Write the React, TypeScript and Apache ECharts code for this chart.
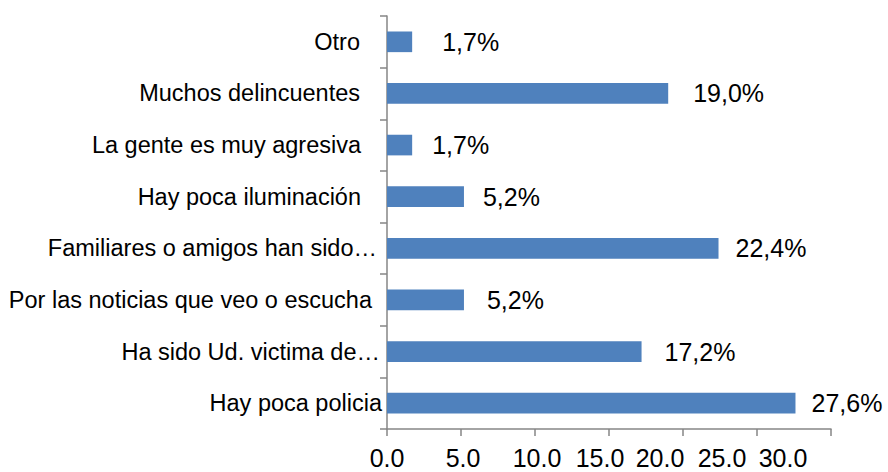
import React, { useEffect, useRef } from "react";
import * as echarts from "echarts";

const categories = [
  "Hay poca policia",
  "Ha sido Ud. victima de…",
  "Por las noticias que veo o escucha",
  "Familiares o amigos han sido…",
  "Hay poca iluminación",
  "La gente es muy agresiva",
  "Muchos delincuentes",
  "Otro",
];
const values = [27.6, 17.2, 5.2, 22.4, 5.2, 1.7, 19.0, 1.7];
const xTicks = [0, 5, 10, 15, 20, 25, 30];

// layout tweaks (style only)
const W = 888;
const GRID_LEFT = 387;
const GRID_RIGHT = 57;
const catLabelPad = [0, 2, 10, 5, 21, 21, 22, 22];
const xLabelShiftPx = [0, 2, 2, -9, -23, -35, -48];
const valueLabelGap = [16, 23, 23, 17, 19, 20, 25, 30];

const FONT = "'Liberation Sans', Arial, sans-serif";

export default function App() {
  const ref = useRef<HTMLDivElement>(null);
  useEffect(() => {
    if (!ref.current) return;
    const chart = echarts.init(ref.current, null, { renderer: "svg" });
    const xMin = xTicks[0];
    const xMax = xTicks[xTicks.length - 1];
    const pxPerUnit = (W - GRID_LEFT - GRID_RIGHT) / (xMax - xMin);
    const labelPositions = xTicks.map((t, i) => t + xLabelShiftPx[i] / pxPerUnit);
    const yRich: Record<string, any> = {};
    catLabelPad.forEach((p, i) => {
      yRich["c" + i] = {
        fontSize: 23.5,
        fontFamily: FONT,
        color: "#000",
        padding: [0, p, 0, 0],
      };
    });
    chart.setOption({
      animation: false,
      grid: {
        left: GRID_LEFT,
        right: GRID_RIGHT,
        top: 16,
        bottom: 43,
        outerBoundsMode: "none",
        containLabel: false,
      },
      xAxis: {
        type: "value",
        min: xMin,
        max: xMax,
        interval: 5,
        splitLine: { show: false },
        axisLine: { show: true, lineStyle: { color: "#868686", width: 1.5 } },
        axisTick: { show: true, length: 7, lineStyle: { color: "#868686", width: 1.5 } },
        axisLabel: {
          margin: 16,
          hideOverlap: false,
          showMinLabel: true,
          showMaxLabel: true,
          customValues: labelPositions,
          fontSize: 25,
          lineHeight: 25,
          fontFamily: FONT,
          color: "#000",
          formatter: (v: number) => {
            let best = 0;
            labelPositions.forEach((p, i) => {
              if (Math.abs(p - v) < Math.abs(labelPositions[best] - v)) best = i;
            });
            return xTicks[best].toFixed(1);
          },
        },
      },
      yAxis: {
        type: "category",
        data: categories,
        axisLine: { show: true, lineStyle: { color: "#868686", width: 1.5 } },
        axisTick: { show: true, length: 7, lineStyle: { color: "#868686", width: 1.5 } },
        axisLabel: {
          margin: 5,
          interval: 0,
          formatter: (v: string, i: number) => `{c${i}|${v}}`,
          rich: yRich,
        },
      },
      series: [
        {
          type: "bar",
          barWidth: "40%",
          itemStyle: { color: "#4F81BD" },
          data: values.map((v, i) => ({
            value: v,
            label: { distance: valueLabelGap[i] },
          })),
          label: {
            show: true,
            position: "right",
            fontSize: 25,
            fontFamily: FONT,
            color: "#000",
            formatter: (p: any) => p.value.toFixed(1).replace(".", ",") + "%",
          },
        },
      ],
    });
    return () => chart.dispose();
  }, []);
  return (
    <div
      ref={ref}
      style={{ position: "fixed", left: 0, top: 0, width: W, height: 472, background: "#fff" }}
    />
  );
}
